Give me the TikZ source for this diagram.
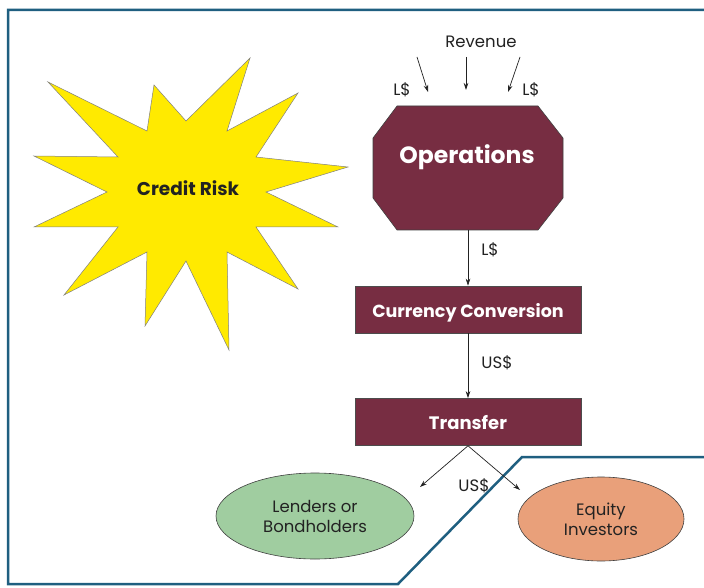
\documentclass[tikz,border=0pt]{standalone}
\usepackage{fontspec}
\setmainfont{Poppins}
\usetikzlibrary{arrows.meta,shapes.geometric}
\definecolor{frameblue}{HTML}{1F5F80}
\definecolor{maroon}{HTML}{772D42}
\definecolor{staryellow}{HTML}{FFEA00}
\definecolor{lgreen}{HTML}{A0CDA0}
\definecolor{lorange}{HTML}{E9A07A}
\definecolor{txt}{HTML}{222222}
\tikzset{
  box/.style={draw=black!70, line width=0.6pt, fill=maroon, text=white, font=\fontsize{17.5}{19}\selectfont\bfseries, text height=16pt, text depth=0pt, minimum width=226pt, minimum height=47pt, inner sep=0pt},
  flow/.style={-{Stealth[length=7pt,width=4.5pt]}, line width=0.7pt, draw=txt},
  lbl/.style={text=txt, font=\fontsize{16.5}{18}\selectfont, inner sep=0pt},
  oval/.style={ellipse, draw=black!75, line width=0.6pt, text=txt, align=center, font=\fontsize{16.5}{20}\selectfont, inner sep=0pt},
}
\begin{document}
\begin{tikzpicture}[x=1pt,y=-1pt]
\useasboundingbox (0,0) rectangle (704,588);
\fill[white] (0,0) rectangle (704,588);
% frame
\draw[frameblue, line width=2.5pt, line join=miter] (704,10) -- (8,10) -- (8,584) -- (398,584) -- (522,457) -- (704,457);
% star
\draw[fill=staryellow, draw=black!50, line width=0.5pt]
  (48,82) -- (147,131) -- (154,85) -- (186,121) -- (250,58) -- (227,131) -- (298,93) -- (256,157) -- (348,167) -- (266,192) -- (338,227) -- (256,227) -- (298,289) -- (227,252) -- (229,350) -- (186,261) -- (145,326) -- (147,252) -- (64,295) -- (118,227) -- (34,227) -- (107,192) -- (34,156) -- (118,157) -- cycle;
\node[text=txt, font=\fontsize{18.5}{20}\selectfont\bfseries] (risk) at (188,188) {Credit Risk};
% operations octagon
\draw[fill=maroon, draw=black!75, line width=0.6pt] (397,106) -- (538,106) -- (563,138) -- (563,198) -- (538,230) -- (397,230) -- (373,198) -- (373,138) -- cycle;
\coordinate (opsTop) at (468,106);
\coordinate (opsBot) at (468,230);
\node[text=white, font=\fontsize{23.5}{26}\selectfont\bfseries, text height=16.5pt, text depth=0pt] (ops) at (467,155) {Operations};
% revenue
\node[lbl] (rev) at (481,42) {Revenue};
\coordinate (a1s) at (417,57); \coordinate (a1e) at (428,92);
\coordinate (a2s) at (466,57); \coordinate (a2e) at (466,90);
\coordinate (a3s) at (520,57); \coordinate (a3e) at (508,92);
\draw[flow] (a1s) -- (a1e);
\draw[flow] (a2s) -- (a2e);
\draw[flow] (a3s) -- (a3e);
\node[lbl] (ll) at (402,90) {L\$};
\node[lbl] (lr) at (531,90) {L\$};
% boxes
\node[box] (conv) at (468,309.5) {Currency Conversion};
\node[box, font=\fontsize{18}{20}\selectfont\bfseries, text height=15pt] (trans) at (468,422) {Transfer};
\draw[flow] (opsBot) -- (conv.north);
\node[lbl] (l1) at (490,250) {L\$};
\draw[flow] (conv.south) -- (trans.north);
\node[lbl] (l2) at (497,363) {US\$};
% investors
\node[oval, fill=lgreen, minimum width=198pt, minimum height=86pt] (lend) at (315,516) {Lenders or\\Bondholders};
\node[oval, fill=lorange, minimum width=166pt, minimum height=84pt] (eq) at (601,519) {Equity\\Investors};
\coordinate (b1) at (420,487);
\coordinate (b2) at (520,490);
\draw[flow] (trans.south) -- (b1);
\draw[flow] (trans.south) -- (b2);
\node[lbl] (l3) at (474,486) {US\$};
\end{tikzpicture}
\end{document}
